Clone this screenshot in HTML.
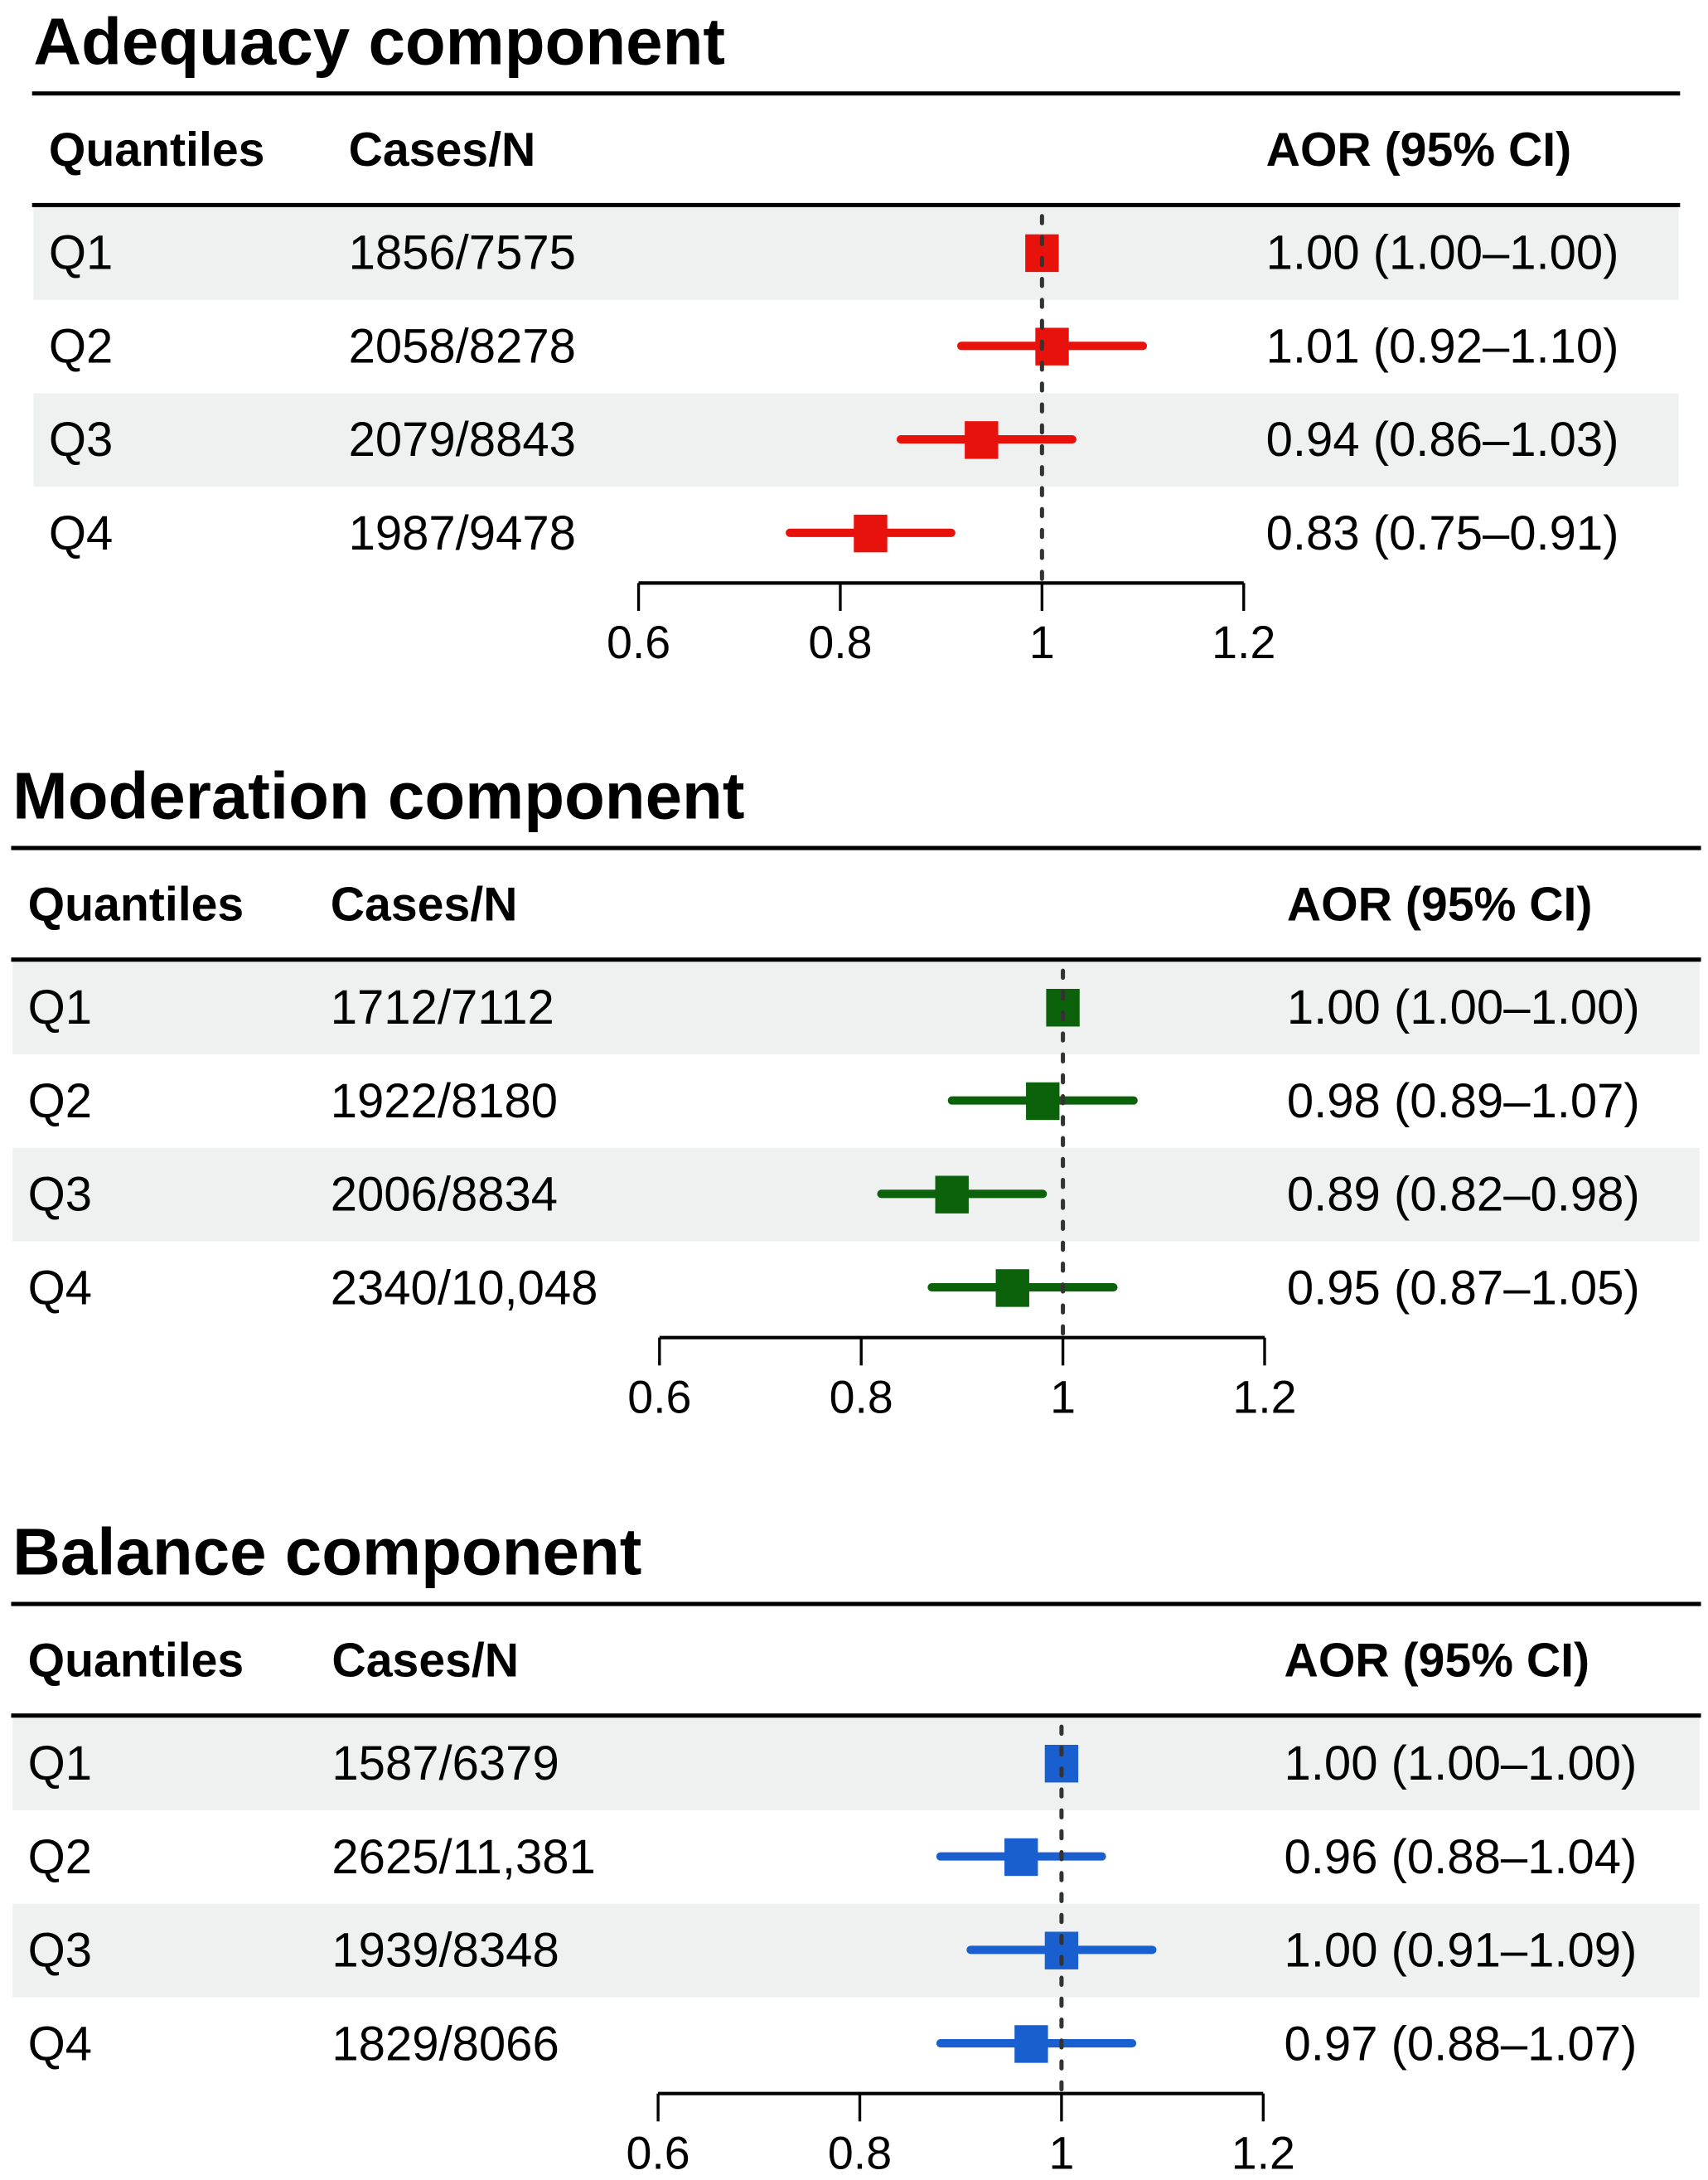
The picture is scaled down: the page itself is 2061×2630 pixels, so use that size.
<!DOCTYPE html>
<html><head><meta charset="utf-8"><style>
html,body{margin:0;padding:0;background:#fff}
svg{display:block}
text{font-family:"Liberation Sans",Arial,sans-serif;fill:#000}
</style></head><body>
<svg id="chart" width="2061" height="2630" viewBox="0 0 1225 1563" preserveAspectRatio="none" xmlns="http://www.w3.org/2000/svg"></svg>
<script>
const panelTitles = ["Adequacy component","Moderation component","Balance component"];
const panelColors = ["#e8120c","#0b620b","#1a5fd0"];
const quantiles = ["Q1","Q2","Q3","Q4"];
const casesA = ["1856/7575","2058/8278","2079/8843","1987/9478"];
const casesM = ["1712/7112","1922/8180","2006/8834","2340/10,048"];
const casesB = ["1587/6379","2625/11,381","1939/8348","1829/8066"];
const aorA = [1.00,1.01,0.94,0.83];
const lowA = [1.00,0.92,0.86,0.75];
const highA = [1.00,1.10,1.03,0.91];
const aorM = [1.00,0.98,0.89,0.95];
const lowM = [1.00,0.89,0.82,0.87];
const highM = [1.00,1.07,0.98,1.05];
const aorB = [1.00,0.96,1.00,0.97];
const lowB = [1.00,0.88,0.91,0.88];
const highB = [1.00,1.04,1.09,1.07];
const tickValues = [0.6,0.8,1,1.2];
const tickLabels = ["0.6","0.8","1","1.2"];

const panels = [
 {top:0,left:23,right:1205,c1:35,c2:250,c3:908,ax0:458,ax1:892,cases:casesA,aor:aorA,low:lowA,high:highA},
 {top:541,left:8,right:1220,c1:20,c2:237,c3:923,ax0:473,ax1:907,cases:casesM,aor:aorM,low:lowM,high:highM},
 {top:1083,left:8,right:1220,c1:20,c2:238,c3:921,ax0:472,ax1:906,cases:casesB,aor:aorB,low:lowB,high:highB}
];
const NS="http://www.w3.org/2000/svg";
const svg=document.getElementById('chart');
function mk(tag,attrs,parent){const e=document.createElementNS(NS,tag);for(const k in attrs)e.setAttribute(k,attrs[k]);(parent||svg).appendChild(e);return e;}
function fmt(v){return v.toFixed(2);}
panels.forEach((p,pi)=>{
  const g=mk('g',{});
  
  
  const T=p.top;
  const xs=v=>p.ax0+(v-0.6)/0.6*(p.ax1-p.ax0);
  const rowY=i=>T+181+i*67;
  [0,2].forEach(i=>{
    const r=mk('rect',{x:p.left+1,y:rowY(i)-33,width:p.right-p.left-2,height:67,fill:'#eef1f0'},g);
    
    
  });
  const t=mk('text',{x:p.left+1,y:T+46,'font-size':47.5,'font-weight':'bold'},g);
  t.textContent=panelTitles[pi];
  
  
  const l1=mk('line',{x1:p.left,x2:p.right,y1:T+67,y2:T+67,stroke:'#000','stroke-width':3},g);
  
  
  const l2=mk('line',{x1:p.left,x2:p.right,y1:T+147,y2:T+147,stroke:'#000','stroke-width':3},g);
  
  
  [["Quantiles",p.c1],["Cases/N",p.c2],["AOR (95% CI)",p.c3]].forEach(h=>{
    const e=mk('text',{x:h[1],y:T+119,'font-size':34,'font-weight':'bold'},g);
    e.textContent=h[0];
    
    
  });
  const ay=T+418;
  const ax=mk('line',{x1:p.ax0,x2:p.ax1,y1:ay,y2:ay,stroke:'#000','stroke-width':2.5},g);
  
  
  tickValues.forEach((v,i)=>{
    const tk=mk('line',{x1:xs(v),x2:xs(v),y1:ay,y2:ay+20,stroke:'#000','stroke-width':2},g);
    
    
    const tl=mk('text',{x:xs(v),y:ay+54,'font-size':33,'text-anchor':'middle'},g);
    tl.textContent=tickLabels[i];
    
    
  });
  quantiles.forEach((q,i)=>{
    const y=rowY(i);
    const a=mk('text',{x:p.c1,y:y+12,'font-size':34.5},g);a.textContent=q;
    
    
    const b=mk('text',{x:p.c2,y:y+12,'font-size':34.5},g);b.textContent=p.cases[i];
    
    
    const c=mk('text',{x:p.c3,y:y+12,'font-size':34.5},g);
    c.textContent=fmt(p.aor[i])+' ('+fmt(p.low[i])+'\u2013'+fmt(p.high[i])+')';
    
    
    if(p.high[i]>p.low[i]){
      const ci=mk('line',{x1:xs(p.low[i]),x2:xs(p.high[i]),y1:y,y2:y,stroke:panelColors[pi],'stroke-width':6,'stroke-linecap':'round'},g);
      
      
    }
    const sq=mk('rect',{x:xs(p.aor[i])-12,y:y-13,width:24,height:27,fill:panelColors[pi]},g);
    
    
  });
  const ref=mk('line',{x1:xs(1),x2:xs(1),y1:T+155,y2:ay,stroke:'#333','stroke-width':3,'stroke-dasharray':'5 10','stroke-linecap':'round'},g);
  
  
});
</script>
</body></html>
